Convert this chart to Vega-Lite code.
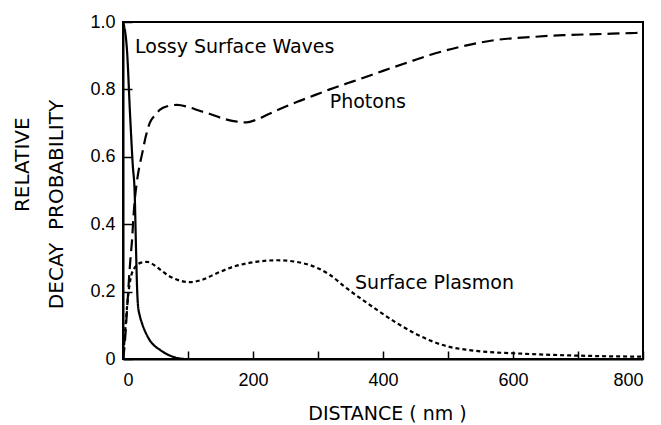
{
  "$schema": "https://vega.github.io/schema/vega-lite/v6.json",
  "width": 520,
  "height": 337,
  "autosize": "none",
  "padding": {"left": 123, "top": 22, "right": 18, "bottom": 66},
  "background": "white",
  "config": {
    "view": {"stroke": "black", "strokeWidth": 2},
    "axis": {
      "grid": false,
      "domainColor": "black",
      "domainWidth": 2,
      "tickColor": "black",
      "tickWidth": 1.5,
      "labelColor": "black",
      "labelFont": "Liberation Sans",
      "labelFontSize": 18,
      "titleColor": "black",
      "titleFont": "DejaVu Sans",
      "titleFontWeight": "normal"
    }
  },
  "datasets": {
    "curves": [
      {"series": "Lossy Surface Waves", "distance": 0, "p": 1.0},
      {"series": "Lossy Surface Waves", "distance": 6, "p": 0.92},
      {"series": "Lossy Surface Waves", "distance": 11, "p": 0.72},
      {"series": "Lossy Surface Waves", "distance": 15, "p": 0.576},
      {"series": "Lossy Surface Waves", "distance": 18, "p": 0.49},
      {"series": "Lossy Surface Waves", "distance": 20, "p": 0.33},
      {"series": "Lossy Surface Waves", "distance": 21.5, "p": 0.22},
      {"series": "Lossy Surface Waves", "distance": 23, "p": 0.16},
      {"series": "Lossy Surface Waves", "distance": 26, "p": 0.127},
      {"series": "Lossy Surface Waves", "distance": 29, "p": 0.107},
      {"series": "Lossy Surface Waves", "distance": 35, "p": 0.078},
      {"series": "Lossy Surface Waves", "distance": 41, "p": 0.056},
      {"series": "Lossy Surface Waves", "distance": 48, "p": 0.04},
      {"series": "Lossy Surface Waves", "distance": 57, "p": 0.027},
      {"series": "Lossy Surface Waves", "distance": 65, "p": 0.017},
      {"series": "Lossy Surface Waves", "distance": 75, "p": 0.008},
      {"series": "Lossy Surface Waves", "distance": 83, "p": 0.003},
      {"series": "Lossy Surface Waves", "distance": 95, "p": 0.0},
      {"series": "Photons", "distance": 0, "p": 0.0},
      {"series": "Photons", "distance": 2, "p": 0.03},
      {"series": "Photons", "distance": 4, "p": 0.08},
      {"series": "Photons", "distance": 6, "p": 0.14},
      {"series": "Photons", "distance": 8, "p": 0.2},
      {"series": "Photons", "distance": 10, "p": 0.26},
      {"series": "Photons", "distance": 12, "p": 0.31},
      {"series": "Photons", "distance": 14, "p": 0.355},
      {"series": "Photons", "distance": 16, "p": 0.42},
      {"series": "Photons", "distance": 18, "p": 0.47},
      {"series": "Photons", "distance": 21, "p": 0.52},
      {"series": "Photons", "distance": 25, "p": 0.57},
      {"series": "Photons", "distance": 29, "p": 0.605},
      {"series": "Photons", "distance": 35, "p": 0.66},
      {"series": "Photons", "distance": 41, "p": 0.70},
      {"series": "Photons", "distance": 50, "p": 0.725},
      {"series": "Photons", "distance": 57, "p": 0.74},
      {"series": "Photons", "distance": 68, "p": 0.75},
      {"series": "Photons", "distance": 83, "p": 0.754},
      {"series": "Photons", "distance": 100, "p": 0.748},
      {"series": "Photons", "distance": 120, "p": 0.735},
      {"series": "Photons", "distance": 134, "p": 0.727},
      {"series": "Photons", "distance": 150, "p": 0.716},
      {"series": "Photons", "distance": 170, "p": 0.706},
      {"series": "Photons", "distance": 190, "p": 0.702},
      {"series": "Photons", "distance": 205, "p": 0.71},
      {"series": "Photons", "distance": 221, "p": 0.724},
      {"series": "Photons", "distance": 245, "p": 0.745},
      {"series": "Photons", "distance": 272, "p": 0.766},
      {"series": "Photons", "distance": 295, "p": 0.783},
      {"series": "Photons", "distance": 318, "p": 0.80},
      {"series": "Photons", "distance": 345, "p": 0.818},
      {"series": "Photons", "distance": 369, "p": 0.834},
      {"series": "Photons", "distance": 400, "p": 0.855},
      {"series": "Photons", "distance": 435, "p": 0.878},
      {"series": "Photons", "distance": 472, "p": 0.902},
      {"series": "Photons", "distance": 520, "p": 0.927},
      {"series": "Photons", "distance": 575, "p": 0.947},
      {"series": "Photons", "distance": 625, "p": 0.955},
      {"series": "Photons", "distance": 677, "p": 0.961},
      {"series": "Photons", "distance": 730, "p": 0.964},
      {"series": "Photons", "distance": 780, "p": 0.967},
      {"series": "Photons", "distance": 800, "p": 0.968},
      {"series": "Surface Plasmon", "distance": 0, "p": 0.0},
      {"series": "Surface Plasmon", "distance": 2, "p": 0.05},
      {"series": "Surface Plasmon", "distance": 4, "p": 0.1},
      {"series": "Surface Plasmon", "distance": 6, "p": 0.15},
      {"series": "Surface Plasmon", "distance": 8, "p": 0.19},
      {"series": "Surface Plasmon", "distance": 10, "p": 0.22},
      {"series": "Surface Plasmon", "distance": 13, "p": 0.25},
      {"series": "Surface Plasmon", "distance": 17, "p": 0.268},
      {"series": "Surface Plasmon", "distance": 21, "p": 0.278},
      {"series": "Surface Plasmon", "distance": 28, "p": 0.286},
      {"series": "Surface Plasmon", "distance": 37, "p": 0.288},
      {"series": "Surface Plasmon", "distance": 50, "p": 0.276},
      {"series": "Surface Plasmon", "distance": 60, "p": 0.261},
      {"series": "Surface Plasmon", "distance": 72, "p": 0.245},
      {"series": "Surface Plasmon", "distance": 85, "p": 0.234},
      {"series": "Surface Plasmon", "distance": 103, "p": 0.228},
      {"series": "Surface Plasmon", "distance": 120, "p": 0.234},
      {"series": "Surface Plasmon", "distance": 145, "p": 0.255},
      {"series": "Surface Plasmon", "distance": 170, "p": 0.274},
      {"series": "Surface Plasmon", "distance": 200, "p": 0.287},
      {"series": "Surface Plasmon", "distance": 237, "p": 0.293},
      {"series": "Surface Plasmon", "distance": 270, "p": 0.287},
      {"series": "Surface Plasmon", "distance": 298, "p": 0.271},
      {"series": "Surface Plasmon", "distance": 318, "p": 0.25},
      {"series": "Surface Plasmon", "distance": 344, "p": 0.21},
      {"series": "Surface Plasmon", "distance": 369, "p": 0.175},
      {"series": "Surface Plasmon", "distance": 395, "p": 0.14},
      {"series": "Surface Plasmon", "distance": 421, "p": 0.107},
      {"series": "Surface Plasmon", "distance": 450, "p": 0.075},
      {"series": "Surface Plasmon", "distance": 475, "p": 0.053},
      {"series": "Surface Plasmon", "distance": 498, "p": 0.038},
      {"series": "Surface Plasmon", "distance": 530, "p": 0.027},
      {"series": "Surface Plasmon", "distance": 560, "p": 0.021},
      {"series": "Surface Plasmon", "distance": 600, "p": 0.017},
      {"series": "Surface Plasmon", "distance": 650, "p": 0.013},
      {"series": "Surface Plasmon", "distance": 700, "p": 0.01},
      {"series": "Surface Plasmon", "distance": 750, "p": 0.008},
      {"series": "Surface Plasmon", "distance": 800, "p": 0.007}
    ],
    "labels": [
      {"label": "Lossy Surface Waves", "at_distance": 18.5, "at_p": 0.909},
      {"label": "Photons", "at_distance": 318, "at_p": 0.745},
      {"label": "Surface Plasmon", "at_distance": 357, "at_p": 0.208}
    ]
  },
  "layer": [
    {
      "data": {"name": "curves"},
      "mark": {"type": "line", "interpolate": "monotone", "strokeWidth": 2.2, "color": "black", "clip": true},
      "encoding": {
        "x": {
          "field": "distance",
          "type": "quantitative",
          "scale": {"domain": [0, 800], "nice": false},
          "axis": {
            "title": "DISTANCE ( nm )",
            "titleFontSize": 19,
            "titleX": 264,
            "titleY": 60,
            "titleBaseline": "alphabetic",
            "values": [0, 100, 200, 300, 400, 500, 600, 700, 800],
            "labelExpr": "datum.value % 200 === 0 ? datum.label : ''",
            "format": "d",
            "tickSize": -8,
            "labelPadding": 20
          }
        },
        "y": {
          "field": "p",
          "type": "quantitative",
          "scale": {"domain": [0, 1], "nice": false},
          "axis": {
            "title": ["\u2800\u2800\u2800\u2800\u2800\u00a0RELATIVE", "DECAY \u00a0PROBABILITY"],
            "titleFontSize": 20,
            "titleAngle": -90,
            "titleX": -95,
            "titleY": 182,
            "titleAlign": "center",
            "titleBaseline": "alphabetic",
            "titleLineHeight": 34,
            "values": [0, 0.2, 0.4, 0.6, 0.8, 1.0],
            "labelExpr": "datum.value === 0 ? '0' : format(datum.value, '.1f')",
            "tickSize": -9,
            "labelPadding": 17
          }
        },
        "detail": {"field": "series"},
        "strokeDash": {
          "field": "series",
          "type": "nominal",
          "scale": {
            "domain": ["Lossy Surface Waves", "Photons", "Surface Plasmon"],
            "range": [[1, 0], [12, 6], [4, 3]]
          },
          "legend": null
        }
      }
    },
    {
      "data": {"name": "labels"},
      "mark": {"type": "text", "font": "DejaVu Sans", "fontSize": 19, "align": "left", "baseline": "alphabetic", "color": "black"},
      "encoding": {
        "x": {"field": "at_distance", "type": "quantitative"},
        "y": {"field": "at_p", "type": "quantitative"},
        "text": {"field": "label"}
      }
    }
  ]
}
